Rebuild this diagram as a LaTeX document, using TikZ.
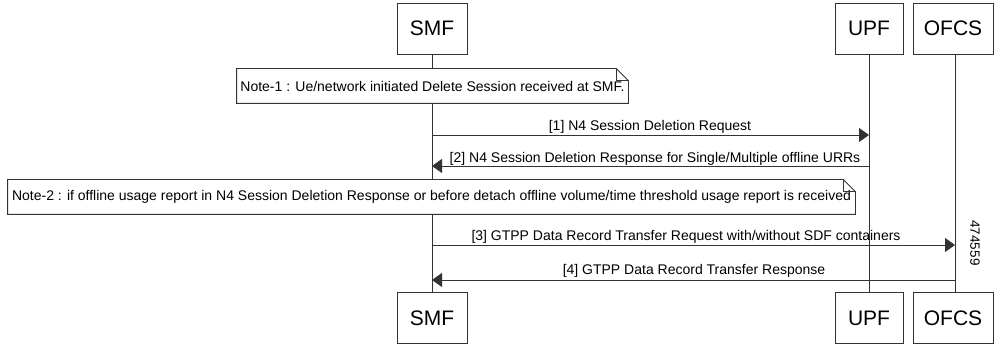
\documentclass[tikz,border=0pt]{standalone}
\usepackage{fontspec}
\setmainfont{Liberation Sans}
\usetikzlibrary{arrows.meta}

\tikzset{
  every path/.style={line width=0.8pt},
  actor/.style={draw=black!80, fill=white, minimum height=51pt, inner sep=0pt,
    font=\fontsize{21}{24}\selectfont},
  msg/.style={draw=black!80, -{Triangle[length=10pt,width=14pt]}},
  lbl/.style={anchor=base, inner sep=0pt, font=\fontsize{14}{16}\selectfont},
  note/.style={fill=white, inner sep=0pt, minimum height=34pt,
    font=\fontsize{14}{16}\selectfont},
}

% note outline with folded corner
\newcommand\notefold[1]{%
  \draw[black!80] (#1.south west) -- (#1.north west) -- ([xshift=-12pt]#1.north east)
    -- ([yshift=-12pt]#1.north east) -- (#1.south east) -- cycle;
  \draw[black!80] ([xshift=-12pt]#1.north east) -- ++(0,-12pt) -- ([yshift=-12pt]#1.north east);}

\begin{document}
\begin{tikzpicture}[x=1pt, y=-1pt]
    \useasboundingbox (0,0) rectangle (994,347);

    % actors, top and bottom
    \node[actor, minimum width=70pt] (smf) at (432,28.5) {SMF};
    \node[actor, minimum width=68pt] (upf) at (869,28.5) {UPF};
    \node[actor, minimum width=80pt] (ofcs) at (953,28.5) {OFCS};
    \node[actor, minimum width=70pt] (smfb) at (432,318) {SMF};
    \node[actor, minimum width=68pt] (upfb) at (869,318) {UPF};
    \node[actor, minimum width=80pt] (ofcsb) at (953,318) {OFCS};

    % lifelines
    \draw[black!80] (smf) -- (smfb);
    \draw[black!80] (upf) -- (upfb);
    \draw[black!80] ([xshift=2pt]ofcs.south) -- ([xshift=2pt]ofcsb.north);

    % notes
    \node[note, minimum width=391pt] (note1) at (432.5,86)
      {Note-1 : Ue/network initiated Delete Session received at SMF.};
    \notefold{note1}
    \node[note, minimum width=847pt] (note2) at (431.5,197)
      {Note-2 : if offline usage report in N4 Session Deletion Response or before detach offline volume/time threshold usage report is received};
    \notefold{note2}

    % messages
    \draw[msg] (smf |- 0,135) -- (upf |- 0,135);
    \node[lbl] (m1) at (650,131) {[1] N4 Session Deletion Request};
    \draw[msg] (upf |- 0,166) -- (smf |- 0,166);
    \node[lbl] (m2) at (655,163) {[2] N4 Session Deletion Response for Single/Multiple offline URRs};
    \draw[msg] (smf |- 0,245) -- ([xshift=2pt]ofcs |- 0,245);
    \node[lbl] (m3) at (686,241) {[3] GTPP Data Record Transfer Request with/without SDF containers};
    \draw[msg] ([xshift=2pt]ofcs |- 0,280) -- (smf |- 0,280);
    \node[lbl] (m4) at (694,275) {[4] GTPP Data Record Transfer Response};

    % figure id
    \node[rotate=-90, inner sep=0pt, font=\fontsize{13.5}{15}\selectfont] (fid) at (975,243) {474559};
\end{tikzpicture}
\end{document}
